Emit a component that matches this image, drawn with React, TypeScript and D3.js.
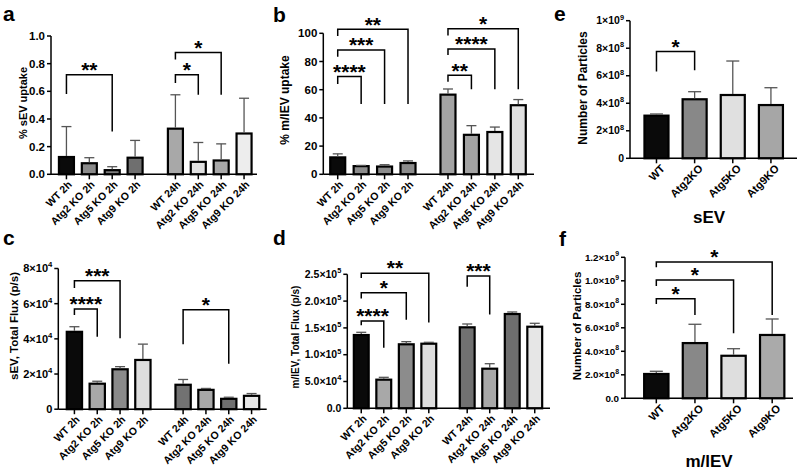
import React from "react";
import * as d3 from "d3";

const FONT = "'Liberation Sans', Arial, Helvetica, sans-serif";

// ---------- categories
const timeCats = [
  "WT 2h", "Atg2 KO 2h", "Atg5 KO 2h", "Atg9 KO 2h",
  "WT 24h", "Atg2 KO 24h", "Atg5 KO 24h", "Atg9 KO 24h",
];
const timeGroups = ["2h", "2h", "2h", "2h", "24h", "24h", "24h", "24h"];
const koCats = ["WT", "Atg2KO", "Atg5KO", "Atg9KO"];
const koGroups = ["all", "all", "all", "all"];

// ---------- a: % sEV uptake
const aMean = [0.125, 0.08, 0.03, 0.12, 0.33, 0.09, 0.1, 0.295];
const aSd = [0.22, 0.04, 0.025, 0.125, 0.245, 0.14, 0.12, 0.255];
const aFill = ["#0a0a0a", "#8a8a8a", "#7c7c7c", "#6f6f6f", "#a8a8a8", "#e0e0e0", "#a8a8a8", "#ededed"];
const aTicks = [0, 0.2, 0.4, 0.6, 0.8, 1.0];
const aTickLabels = ["0.0", "0.2", "0.4", "0.6", "0.8", "1.0"];
const aSig = [
  { from: 0, to: 2, y: 0.72, yFrom: 0.58, yTo: 0.31, stars: "**" },
  { from: 4, to: 5, y: 0.72, yFrom: 0.66, yTo: 0.575, stars: "*" },
  { from: 4, to: 6, y: 0.88, yFrom: 0.83, yTo: 0.575, stars: "*" },
];

// ---------- b: % m/lEV uptake
const bMean = [12, 5.8, 5.5, 8, 56.5, 28, 30, 49];
const bSd = [2.5, 0.5, 1.3, 1.5, 4, 6.5, 3.5, 4];
const bFill = ["#0a0a0a", "#8c8c8c", "#8c8c8c", "#8c8c8c", "#a3a3a3", "#a3a3a3", "#e5e5e5", "#e0e0e0"];
const bTicks = [0, 20, 40, 60, 80, 100];
const bTickLabels = ["0", "20", "40", "60", "80", "100"];
const bSig = [
  { from: 0, to: 1, y: 69.3, yFrom: 64, yTo: 49.9, stars: "****" },
  { from: 0, to: 2, y: 88.1, yFrom: 83.4, yTo: 49.9, stars: "***" },
  { from: 0, to: 3, y: 102.8, yFrom: 98.1, yTo: 49.9, stars: "**" },
  { from: 4, to: 5, y: 70.2, yFrom: 65.7, yTo: 60.3, stars: "**" },
  { from: 4, to: 6, y: 88.9, yFrom: 84.6, yTo: 60.3, stars: "****" },
  { from: 4, to: 7, y: 103.3, yFrom: 98.5, yTo: 60.3, stars: "*" },
];

// ---------- c: sEV total flux
const cMean = [4.4e4, 1.45e4, 2.27e4, 2.8e4, 1.39e4, 1.1e4, 0.59e4, 0.76e4];
const cSd = [0.29e4, 0.14e4, 0.15e4, 0.9e4, 0.3e4, 0.08e4, 0.09e4, 0.13e4];
const cFill = ["#0a0a0a", "#a8a8a8", "#8a8a8a", "#dedede", "#727272", "#a8a8a8", "#6e6e6e", "#e8e8e8"];
const cTicks = [0, 2e4, 4e4, 6e4, 8e4];
const cTickLabels = ["0", "2×10^4", "4×10^4", "6×10^4", "8×10^4"];
const cSig = [
  { from: 0, to: 1, y: 5.7e4, yFrom: 5.36e4, yTo: 4.12e4, stars: "****" },
  { from: 0, to: 2, y: 7.31e4, yFrom: 6.89e4, yTo: 4.03e4, stars: "***" },
  { from: 4, to: 6, y: 5.66e4, yFrom: 3.69e4, yTo: 2.59e4, stars: "*" },
];

// ---------- d: m/lEV total flux
const dMean = [1.367e5, 0.534e5, 1.194e5, 1.205e5, 1.511e5, 0.739e5, 1.759e5, 1.522e5];
const dSd = [0.051e5, 0.044e5, 0.049e5, 0.026e5, 0.062e5, 0.093e5, 0.038e5, 0.064e5];
const dFill = ["#0a0a0a", "#a8a8a8", "#8c8c8c", "#dedede", "#717171", "#a8a8a8", "#6e6e6e", "#e6e6e6"];
const dTicks = [0, 5e4, 1e5, 1.5e5, 2e5, 2.5e5];
const dTickLabels = ["0.0", "5.0×10^4", "1.0×10^5", "1.5×10^5", "2.0×10^5", "2.5×10^5"];
const dSig = [
  { from: 0, to: 1, y: 1.63e5, yFrom: 1.55e5, yTo: 1.13e5, stars: "****" },
  { from: 0, to: 2, y: 2.157e5, yFrom: 2.05e5, yTo: 1.65e5, stars: "*" },
  { from: 0, to: 3, y: 2.52e5, yFrom: 2.43e5, yTo: 1.6e5, stars: "**" },
  { from: 4, to: 5, y: 2.47e5, yFrom: 2.27e5, yTo: 1.75e5, stars: "***" },
];

// ---------- e: sEV particles
const eMean = [3.1e8, 4.29e8, 4.6e8, 3.87e8];
const eSd = [0.12e8, 0.55e8, 2.47e8, 1.26e8];
const eFill = ["#0a0a0a", "#888888", "#e0e0e0", "#a6a6a6"];
const eTicks = [0, 2e8, 4e8, 6e8, 8e8, 1e9];
const eTickLabels = ["0", "2×10^8", "4×10^8", "6×10^8", "8×10^8", "1×10^9"];
const eSig = [{ from: 0, to: 1, y: 7.76e8, yFrom: 6.3e8, yTo: 6.4e8, stars: "*" }];

// ---------- f: m/lEV particles
const fMean = [2.07e8, 4.7e8, 3.62e8, 5.39e8];
const fSd = [0.23e8, 1.6e8, 0.6e8, 1.36e8];
const fFill = ["#0a0a0a", "#888888", "#dedede", "#aaaaaa"];
const fTicks = [0, 2e8, 4e8, 6e8, 8e8, 1e9, 1.2e9];
const fTickLabels = ["0.0", "2.0×10^8", "4.0×10^8", "6.0×10^8", "8.0×10^8", "1.0×10^9", "1.2×10^9"];
const fSig = [
  { from: 0, to: 1, y: 8.48e8, yFrom: 8.03e8, yTo: 7.09e8, stars: "*" },
  { from: 0, to: 2, y: 1.007e9, yFrom: 9.56e8, yTo: 5.53e8, stars: "*" },
  { from: 0, to: 3, y: 1.16e9, yFrom: 1.115e9, yTo: 7.09e8, stars: "*" },
];

type Sig = { from: number; to: number; y: number; yFrom: number; yTo: number; stars: string };

function TickLabel({ x, y, label, size }: { x: number; y: number; label: string; size: number }) {
  const [base, exp] = label.split("^");
  return (
    <text x={x} y={y} textAnchor="end" fontSize={size} fontWeight="bold" dy="0.35em">
      {base}
      {exp && (
        <tspan fontSize={size * 0.7} dy={-size * 0.45}>
          {exp}
        </tspan>
      )}
    </text>
  );
}

interface PanelProps {
  cats: string[];
  groups: string[];
  mean: number[];
  sd: number[];
  fill: string[];
  ticks: number[];
  tickLabels: string[];
  sig: Sig[];
  yMax: number;
  yPx: [number, number];
  axisX: [number, number];
  barX: [number, number];
  groupPad: number;
  barPad: number;
  capW: number;
  letter: string;
  letterPos: [number, number];
  title: string;
  titlePos: [number, number];
  titleSize: number;
  tickSize: number;
  labelSize: number;
  labelOff: [number, number];
  xTitle?: string;
  xTitlePos?: [number, number];
}

function Panel(p: PanelProps) {
  const y = d3.scaleLinear().domain([0, p.yMax]).range(p.yPx);
  const groupIds = Array.from(new Set(p.groups));
  const outer = d3.scaleBand<string>().domain(groupIds).range(p.barX).paddingInner(p.groupPad);
  const counts: Record<string, number> = {};
  const slot = p.groups.map((g) => (counts[g] = (counts[g] ?? -1) + 1));
  const perGroup = Math.max(...Object.values(counts)) + 1;
  const inner = d3
    .scaleBand<number>()
    .domain(d3.range(perGroup))
    .range([0, outer.bandwidth()])
    .paddingInner(p.barPad)
    .paddingOuter(p.barPad / 2);
  const bw = inner.bandwidth();
  const cx = p.cats.map((_, i) => (outer(p.groups[i]) ?? 0) + (inner(slot[i]) ?? 0) + bw / 2);
  const y0 = y(0);

  return (
    <g fontFamily={FONT}>
      <text x={p.letterPos[0]} y={p.letterPos[1]} fontSize={21} fontWeight="bold">
        {p.letter}
      </text>
      <text
        transform={`translate(${p.titlePos[0]},${p.titlePos[1]}) rotate(-90)`}
        textAnchor="middle"
        dy="0.35em"
        fontSize={p.titleSize}
        fontWeight="bold"
      >
        {p.title}
      </text>

      {/* bars */}
      {p.mean.map((m, i) => (
        <rect
          key={"b" + i}
          x={cx[i] - bw / 2}
          y={y(m)}
          width={bw}
          height={y0 - y(m)}
          fill={p.fill[i]}
          stroke="#000"
          strokeWidth={2.2}
        />
      ))}

      {/* error bars */}
      {p.mean.map((m, i) => (
        <g key={"e" + i} stroke="#555" strokeWidth={1.3}>
          <line x1={cx[i]} x2={cx[i]} y1={y(m) - 1} y2={y(m + p.sd[i])} />
          <line x1={cx[i] - p.capW / 2} x2={cx[i] + p.capW / 2} y1={y(m + p.sd[i])} y2={y(m + p.sd[i])} />
        </g>
      ))}

      {/* y axis */}
      <line x1={p.axisX[0]} x2={p.axisX[0]} y1={y0} y2={y(p.yMax)} stroke="#000" strokeWidth={1.5} />
      {p.ticks.map((t, i) => (
        <g key={"t" + i}>
          <line x1={p.axisX[0] - 4} x2={p.axisX[0]} y1={y(t)} y2={y(t)} stroke="#000" strokeWidth={1.5} />
          <TickLabel x={p.axisX[0] - 6} y={y(t)} label={p.tickLabels[i]} size={p.tickSize} />
        </g>
      ))}

      {/* x axis */}
      <line x1={p.axisX[0]} x2={p.axisX[1]} y1={y0} y2={y0} stroke="#000" strokeWidth={1.5} />
      {p.cats.map((c, i) => (
        <g key={"x" + i}>
          <line x1={cx[i]} x2={cx[i]} y1={y0} y2={y0 + 5} stroke="#000" strokeWidth={1.5} />
          <text
            transform={`translate(${cx[i] + p.labelOff[0]},${y0 + p.labelOff[1]}) rotate(-45)`}
            textAnchor="end"
            fontSize={p.labelSize}
            fontWeight="bold"
          >
            {c}
          </text>
        </g>
      ))}

      {/* significance brackets */}
      {p.sig.map((s, i) => {
        const xa = cx[s.from];
        const xb = cx[s.to];
        return (
          <g key={"s" + i}>
            <path
              d={`M${xa},${y(s.yFrom)}V${y(s.y)}H${xb}V${y(s.yTo)}`}
              fill="none"
              stroke="#000"
              strokeWidth={1.5}
            />
            <text x={(xa + xb) / 2} y={y(s.y) + 2.2} textAnchor="middle" fontSize={21} fontWeight="bold">
              {s.stars}
            </text>
          </g>
        );
      })}

      {p.xTitle && p.xTitlePos && (
        <text x={p.xTitlePos[0]} y={p.xTitlePos[1]} textAnchor="middle" fontSize={17} fontWeight="bold">
          {p.xTitle}
        </text>
      )}
    </g>
  );
}

export default function App() {
  return (
    <div style={{ position: "absolute", left: 0, top: 0 }}>
      <svg width={800} height={471} style={{ display: "block", background: "#fff" }}>
        <Panel
          cats={timeCats} groups={timeGroups} mean={aMean} sd={aSd} fill={aFill}
          ticks={aTicks} tickLabels={aTickLabels} sig={aSig}
          yMax={1} yPx={[174.3, 36]} axisX={[51, 257]} barX={[55, 255.5]}
          groupPad={0.16} barPad={0.344} capW={10}
          letter="a" letterPos={[3, 21]}
          title="% sEV uptake" titlePos={[23.5, 103]} titleSize={11}
          tickSize={11.5} labelSize={10.5} labelOff={[6, 11]}
        />
        <Panel
          cats={timeCats} groups={timeGroups} mean={bMean} sd={bSd} fill={bFill}
          ticks={bTicks} tickLabels={bTickLabels} sig={bSig}
          yMax={100} yPx={[174.3, 33.3]} axisX={[323.3, 534]} barX={[326, 530]}
          groupPad={0.15} barPad={0.36} capW={10}
          letter="b" letterPos={[273, 22]}
          title="% m/lEV uptake" titlePos={[285, 100]} titleSize={12}
          tickSize={11.5} labelSize={10.5} labelOff={[6, 11]}
        />
        <Panel
          cats={timeCats} groups={timeGroups} mean={cMean} sd={cSd} fill={cFill}
          ticks={cTicks} tickLabels={cTickLabels} sig={cSig}
          yMax={8e4} yPx={[409.2, 268.5]} axisX={[58.3, 266.7]} barX={[63, 263]}
          groupPad={0.16} barPad={0.33} capW={10}
          letter="c" letterPos={[3, 245]}
          title="sEV, Total Flux (p/s)" titlePos={[13.5, 326]} titleSize={11.5}
          tickSize={11} labelSize={10.5} labelOff={[6, 11]}
        />
        <Panel
          cats={timeCats} groups={timeGroups} mean={dMean} sd={dSd} fill={dFill}
          ticks={dTicks} tickLabels={dTickLabels} sig={dSig}
          yMax={2.5e5} yPx={[408.3, 274.3]} axisX={[347.3, 550]} barX={[350, 546]}
          groupPad={0.15} barPad={0.34} capW={10}
          letter="d" letterPos={[273, 245]}
          title="m/lEV, Total Flux (p/s)" titlePos={[295, 337]} titleSize={10}
          tickSize={10.5} labelSize={10.5} labelOff={[6, 11]}
        />
        <Panel
          cats={koCats} groups={koGroups} mean={eMean} sd={eSd} fill={eFill}
          ticks={eTicks} tickLabels={eTickLabels} sig={eSig}
          yMax={1e9} yPx={[158.3, 20.7]} axisX={[630, 797]} barX={[637.4, 790]}
          groupPad={0} barPad={0.37} capW={13}
          letter="e" letterPos={[554, 21]}
          title="Number of Particles" titlePos={[582.7, 88]} titleSize={12}
          tickSize={10.5} labelSize={11} labelOff={[9, 11]}
          xTitle="sEV" xTitlePos={[709, 223]}
        />
        <Panel
          cats={koCats} groups={koGroups} mean={fMean} sd={fSd} fill={fFill}
          ticks={fTicks} tickLabels={fTickLabels} sig={fSig}
          yMax={1.2e9} yPx={[398.3, 257.3]} axisX={[625, 793]} barX={[637, 791.5]}
          groupPad={0} barPad={0.37} capW={13}
          letter="f" letterPos={[559, 246]}
          title="Number of Particles" titlePos={[577, 326]} titleSize={11.5}
          tickSize={9.8} labelSize={11} labelOff={[9, 11]}
          xTitle="m/lEV" xTitlePos={[709, 467]}
        />
      </svg>
    </div>
  );
}
